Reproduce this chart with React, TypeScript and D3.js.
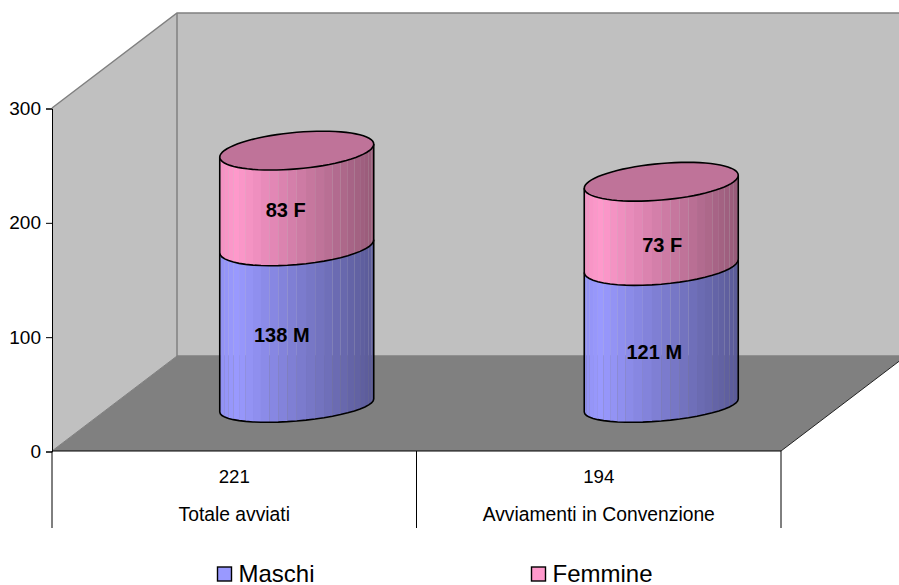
import * as React from 'react';
import * as d3 from 'd3';

const categories = ['Totale avviati', 'Avviamenti in Convenzione'];
const totals = [221, 194];
const maschi = [138, 121];
const femmine = [83, 73];
const yTicks = [0, 100, 200, 300];
const seriesNames = ['Maschi', 'Femmine'];
const seriesColors = ['#9999ff', '#ff99cc'];
const seriesSuffix = ['M', 'F'];
// hand tweaks so the labels land where the original put them: [dx, dy] by category, by series
const labelShift = [
  [[-15, 9], [-11, 12]],
  [[-7, 16], [1, 21]]
];

const FONT = '"Liberation Sans", Arial, sans-serif';

export default function App() {
  const ref = React.useRef<SVGSVGElement>(null);

  React.useEffect(() => {
    const svg = d3.select(ref.current);
    svg.selectAll('*').remove();

    const x0 = 52;
    const x1 = 781;
    const yBottom = 451;
    const yTop = 108;
    const depthX = 125;
    const depthY = 95;

    const x = d3.scaleBand<string>().domain(categories).range([x0, x1]);
    const y = d3.scaleLinear().domain([0, 300]).range([yBottom, yTop]);
    // cylinders stand in the middle of the floor and come out a touch taller than the axis
    const barHeight = d3.scaleLinear().domain([0, 300]).range([0, 346]);
    const baseY = 405.5;

    const poly = d3.line<[number, number]>();

    // walls and floor
    svg.append('path')
      .attr('d', poly([[x0 + depthX, yTop - depthY], [960, yTop - depthY], [960, yBottom - depthY], [x0 + depthX, yBottom - depthY]]))
      .attr('fill', '#c0c0c0');
    svg.append('path')
      .attr('d', poly([[x0, yBottom], [x0, yTop], [x0 + depthX, yTop - depthY], [x0 + depthX, yBottom - depthY]]))
      .attr('fill', '#c0c0c0');
    svg.append('path')
      .attr('d', poly([[x0, yBottom], [x1, yBottom], [x1 + depthX, yBottom - depthY], [x0 + depthX, yBottom - depthY]]))
      .attr('fill', '#808080');

    const edge = (pts: [number, number][], color: string, w: number) =>
      svg.append('path')
        .attr('d', poly(pts))
        .attr('fill', 'none')
        .attr('stroke', color)
        .attr('stroke-width', w);

    edge([[x0, yTop], [x0 + depthX, yTop - depthY], [960, yTop - depthY]], '#808080', 1.5);
    edge([[x0 + depthX, yTop - depthY], [x0 + depthX, yBottom - depthY], [960, yBottom - depthY]], '#808080', 1.5);
    edge([[x0, yBottom], [x0 + depthX, yBottom - depthY]], '#808080', 1);
    edge([[x1, yBottom], [x1 + depthX, yBottom - depthY]], '#222', 1);

    // y axis
    const gy = svg.append('g')
      .attr('transform', `translate(${x0}, 0.5)`)
      .call(d3.axisLeft(y).tickValues(yTicks).tickSize(6).tickPadding(5).tickFormat(d3.format('d')));
    gy.select('.domain').attr('stroke', '#000');
    gy.selectAll('text').attr('font-family', FONT).attr('font-size', 19).attr('fill', '#000');

    // category table under the floor
    edge([[x0, yBottom], [x1, yBottom]], '#000', 1);
    [x0, x(categories[1]) as number, x1].forEach(px => {
      edge([[px, yBottom], [px, 528]], '#000', 1);
    });
    const midX = (i: number) => (x(categories[i]) as number) + x.bandwidth() / 2;
    categories.forEach((c, i) => {
      svg.append('text')
        .attr('x', midX(i)).attr('y', 482.5)
        .attr('text-anchor', 'middle')
        .attr('font-family', FONT).attr('font-size', 18.7)
        .text(totals[i]);
      svg.append('text')
        .attr('x', midX(i)).attr('y', 521)
        .attr('text-anchor', 'middle')
        .attr('font-family', FONT).attr('font-size', 19.3)
        .text(c);
    });

    // cylinders
    const rx = 77;
    const skew = 6.5;
    const ryTop = 18.3;
    const ryBase = 15.5; // the foot of the cylinder is flatter than its cap
    const facets = 26;
    const shade = d3.scaleLinear().domain([0, 0.1, 1]).range([0.95, 1, 0.59]);

    const rim = (cx: number, cy: number, t: number, ry = ryTop): [number, number] => [
      cx + rx * Math.cos(t),
      cy - skew * Math.cos(t) - ry * Math.sin(t)
    ];
    const frontAngles = d3.range(facets + 1).map(i => Math.PI + (i / facets) * Math.PI);

    const cylinder = (cx: number, bottom: number, top: number, color: string, cap: boolean, ryLow: number) => {
      frontAngles.slice(0, -1).forEach((t, i) => {
        const t2 = frontAngles[i + 1];
        const u = (rim(cx, 0, (t + t2) / 2)[0] - (cx - rx)) / (2 * rx);
        const c = d3.rgb(color);
        const k = shade(u);
        svg.append('path')
          .attr('d', poly([rim(cx, top, t), rim(cx, top, t2), rim(cx, bottom, t2, ryLow), rim(cx, bottom, t, ryLow)]) + 'Z')
          .attr('fill', d3.rgb(c.r * k, c.g * k, c.b * k).formatRgb());
      });
      // outline of the front wall
      const front = frontAngles.map(t => rim(cx, bottom, t, ryLow));
      const outline = [rim(cx, top, Math.PI), ...front, rim(cx, top, 2 * Math.PI)];
      edge(outline, '#000', 1.6);
      if (cap) {
        const c = d3.rgb(color);
        svg.append('path')
          .attr('d', poly(d3.range(73).map(i => rim(cx, top, (i / 72) * 2 * Math.PI))) + 'Z')
          .attr('fill', d3.rgb(c.r * 0.75, c.g * 0.75, c.b * 0.75).formatRgb())
          .attr('stroke', '#000')
          .attr('stroke-width', 1.6);
      }
    };

    categories.forEach((c, i) => {
      const cx = midX(i) + depthX / 2;
      const yM = baseY - barHeight(maschi[i]);
      const yF = yM - barHeight(femmine[i]);
      cylinder(cx, baseY, yM, seriesColors[0], false, ryBase);
      cylinder(cx, yM, yF, seriesColors[1], true, ryTop);

      [maschi[i], femmine[i]].forEach((v, s) => {
        const mid = s === 0 ? (baseY + yM) / 2 : (yM + yF) / 2;
        svg.append('text')
          .attr('x', cx + labelShift[i][s][0])
          .attr('y', mid + labelShift[i][s][1])
          .attr('dy', '0.35em')
          .attr('text-anchor', 'middle')
          .attr('font-family', FONT)
          .attr('font-size', 20)
          .attr('font-weight', 'bold')
          .text(`${v} ${seriesSuffix[s]}`);
      });
    });

    // legend
    const legendX = d3.scalePoint<string>().domain(seriesNames).range([217.5, 531.5]);
    seriesNames.forEach((name, s) => {
      const lx = legendX(name) as number;
      svg.append('rect')
        .attr('x', lx).attr('y', 567)
        .attr('width', 14).attr('height', 14)
        .attr('fill', seriesColors[s])
        .attr('stroke', '#000').attr('stroke-width', 1.4);
      svg.append('text')
        .attr('x', lx + 21).attr('y', 581.5)
        .attr('font-family', FONT).attr('font-size', 24)
        .text(name);
    });
  }, []);

  return (
    <svg
      ref={ref}
      width={899}
      height={585}
      style={{ position: 'absolute', left: 0, top: 0, display: 'block', background: '#fff' }}
    />
  );
}
